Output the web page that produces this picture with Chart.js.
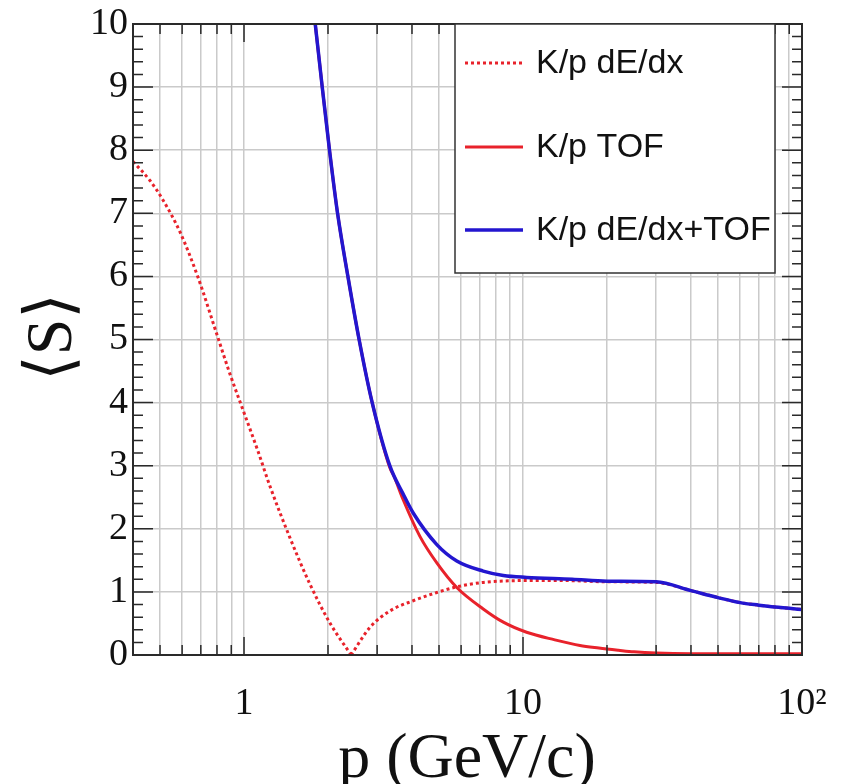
<!DOCTYPE html>
<html>
<head>
<meta charset="utf-8">
<script src="https://cdn.jsdelivr.net/npm/chart.js@4.4.1/dist/chart.umd.min.js"></script>
<style>
  html, body { margin: 0; padding: 0; background: #fff; }
  canvas { display: block; }
</style>
</head>
<body>
<canvas id="sepChart" width="846" height="784"></canvas>
<script>
// momentum (GeV/c) and mean separation <S>
const pDedx = [0.40, 0.46, 0.514, 0.59, 0.686, 0.798, 0.891, 1.0, 1.12, 1.24, 1.46, 1.72, 2.03, 2.42,
  2.83, 3.34, 4.04, 4.91, 5.79, 7.2, 10.3, 14, 20, 30, 40, 50, 60, 70, 80, 90, 100];
const sDedx = [7.82, 7.52, 7.2, 6.7, 5.97, 5.09, 4.45, 3.84, 3.24, 2.67, 1.86, 1.13, 0.51, 0.0,
  0.44, 0.70, 0.86, 0.99, 1.08, 1.15, 1.18, 1.18, 1.16, 1.15, 1.02, 0.91, 0.83, 0.79, 0.76, 0.74, 0.72];

const pTof = [1.75, 1.80, 1.907, 2.025, 2.164, 2.357, 2.585, 2.88, 3.33, 3.45, 3.72, 4.27, 4.91, 5.79,
  7.2, 8.5, 10.3, 13, 16, 18.7, 22, 25, 30, 40, 60, 100];
const sTof = [10.5, 10, 9, 8, 7, 6, 5, 4, 2.97, 2.83, 2.46, 1.88, 1.46, 1.07,
  0.73, 0.52, 0.36, 0.24, 0.15, 0.11, 0.075, 0.05, 0.03, 0.02, 0.02, 0.02];

const pComb = [1.75, 1.80, 1.907, 2.025, 2.164, 2.357, 2.585, 2.88, 3.33, 3.72, 4.04, 4.91, 5.79,
  7.2, 8.5, 10.3, 15, 20, 30, 40, 50, 60, 70, 80, 90, 100];
const sComb = [10.5, 10, 9, 8, 7, 6, 5, 4, 3.0, 2.55, 2.25, 1.75, 1.49,
  1.33, 1.26, 1.23, 1.2, 1.17, 1.16, 1.02, 0.91, 0.83, 0.79, 0.76, 0.74, 0.72];

const seriesNames = ["K/p dE/dx", "K/p TOF", "K/p dE/dx+TOF"];

const xLabelValues = [1, 10, 100];
const xLabelTexts = ["1", "10", "10²"];
const yMin = 0, yMax = 10;

// grid positions on the log axis: 0.4..0.9, 1..9, 10..90, 100
const xGrid = [];
for (let d = 0.1; d < 100; d *= 10) {
  for (let m = 1; m <= 9; m++) {
    const v = +(m * d).toPrecision(3);
    if (v >= 0.4) xGrid.push(v);
  }
}
xGrid.push(100);

function pts(px, py) {
  return px.map((p, i) => ({ x: p, y: py[i] }));
}

// dE/dx curve has a sharp zero: break the spline there so the V stays pointed
function vShape(px, py) {
  const k = py.indexOf(Math.min(...py));
  const all = pts(px, py);
  return all.slice(0, k + 1).concat([{ x: px[k], y: null }], all.slice(k));
}

const RED = "#e8222b";
const BLUE = "#2316cf";
const serif = "'Liberation Serif', 'DejaVu Serif', serif";
const sans = "'Liberation Sans', Arial, sans-serif";

// inner ticks, frame, legend box and axis titles (ROOT look)
const rootDecor = {
  id: "rootDecor",
  afterDatasetsDraw(chart) {
    const { ctx, chartArea: a, scales: { x, y } } = chart;
    ctx.save();
    ctx.strokeStyle = "#2a2a2a";
    ctx.lineWidth = 1.5;
    ctx.beginPath();
    for (let i = 0; i <= 50; i++) {
      const yy = y.getPixelForValue(i / 5);
      const len = i % 5 === 0 ? 20 : 10;
      ctx.moveTo(a.left, yy); ctx.lineTo(a.left + len, yy);
      ctx.moveTo(a.right, yy); ctx.lineTo(a.right - len, yy);
    }
    xGrid.forEach(v => {
      const xx = x.getPixelForValue(v);
      const len = xLabelValues.includes(v) ? 18 : 10;
      ctx.moveTo(xx, a.bottom); ctx.lineTo(xx, a.bottom - len);
      ctx.moveTo(xx, a.top); ctx.lineTo(xx, a.top + len);
    });
    ctx.stroke();

    ctx.lineWidth = 2;
    ctx.strokeRect(a.left, a.top, a.right - a.left, a.bottom - a.top);

    // legend
    const bx = 455, by = a.top, bw = 320, bh = 249;
    ctx.fillStyle = "#fff";
    ctx.fillRect(bx, by, bw, bh);
    ctx.strokeStyle = "#333";
    ctx.lineWidth = 1.5;
    ctx.strokeRect(bx, by, bw, bh);
    const rows = [63, 147, 230];
    chart.data.datasets.forEach((ds, i) => {
      ctx.beginPath();
      ctx.strokeStyle = ds.borderColor;
      ctx.lineWidth = ds.borderWidth;
      ctx.setLineDash(ds.borderDash || []);
      ctx.moveTo(465, rows[i]);
      ctx.lineTo(523, rows[i]);
      ctx.stroke();
      ctx.setLineDash([]);
      ctx.fillStyle = "#111";
      ctx.font = "34px " + sans;
      ctx.textAlign = "left";
      ctx.textBaseline = "middle";
      ctx.fillText(ds.label, 536, rows[i] + 1);
    });
    ctx.restore();
  },
  afterDraw(chart) {
    const { ctx } = chart;
    ctx.save();
    ctx.fillStyle = "#111";
    ctx.font = "64px " + serif;
    ctx.textAlign = "center";
    ctx.textBaseline = "alphabetic";
    ctx.fillText("p (GeV/c)", 467, 777);
    ctx.translate(54, 337);
    ctx.rotate(-Math.PI / 2);
    ctx.textBaseline = "middle";
    ctx.font = "66px " + serif;
    ctx.fillText("⟨S⟩", 0, 0);
    ctx.restore();
  }
};

const ctx = document.getElementById("sepChart").getContext("2d");
const sepChart = new Chart(ctx, {
  type: "line",
  data: {
    datasets: [
      {
        label: seriesNames[0],
        data: vShape(pDedx, sDedx),
        borderColor: RED,
        borderWidth: 3,
        borderDash: [3, 3],
        order: 2
      },
      {
        label: seriesNames[1],
        data: pts(pTof, sTof),
        borderColor: RED,
        borderWidth: 3,
        order: 1
      },
      {
        label: seriesNames[2],
        data: pts(pComb, sComb),
        borderColor: BLUE,
        borderWidth: 3.5,
        order: 0
      }
    ]
  },
  options: {
    responsive: false,
    animation: false,
    devicePixelRatio: 1,
    elements: {
      point: { radius: 0 },
      line: { cubicInterpolationMode: "monotone", fill: false }
    },
    layout: { padding: { left: 0, right: 44, top: 23, bottom: 0 } },
    plugins: {
      legend: { display: false },
      tooltip: { enabled: false }
    },
    scales: {
      x: {
        type: "logarithmic",
        min: 0.4,
        max: 100,
        afterBuildTicks: s => { s.ticks = xGrid.map(v => ({ value: v })); },
        afterFit: s => { s.height = 129; s.paddingLeft = 0; s.paddingRight = 0; },
        grid: { color: "#cacaca", lineWidth: 1.5, drawTicks: false },
        border: { display: false },
        ticks: {
          autoSkip: false,
          maxRotation: 0,
          padding: 30,
          color: "#111",
          font: { family: serif, size: 38, lineHeight: 1 },
          callback: v => {
            const k = xLabelValues.indexOf(v);
            return k >= 0 ? xLabelTexts[k] : "";
          }
        }
      },
      y: {
        min: yMin,
        max: yMax,
        afterFit: s => { s.width = 133; },
        grid: { color: "#cacaca", lineWidth: 1.5, drawTicks: false },
        border: { display: false },
        ticks: {
          stepSize: 1,
          padding: 5,
          color: "#111",
          font: { family: serif, size: 38, lineHeight: 1 }
        }
      }
    }
  },
  plugins: [rootDecor]
});
</script>
</body>
</html>
